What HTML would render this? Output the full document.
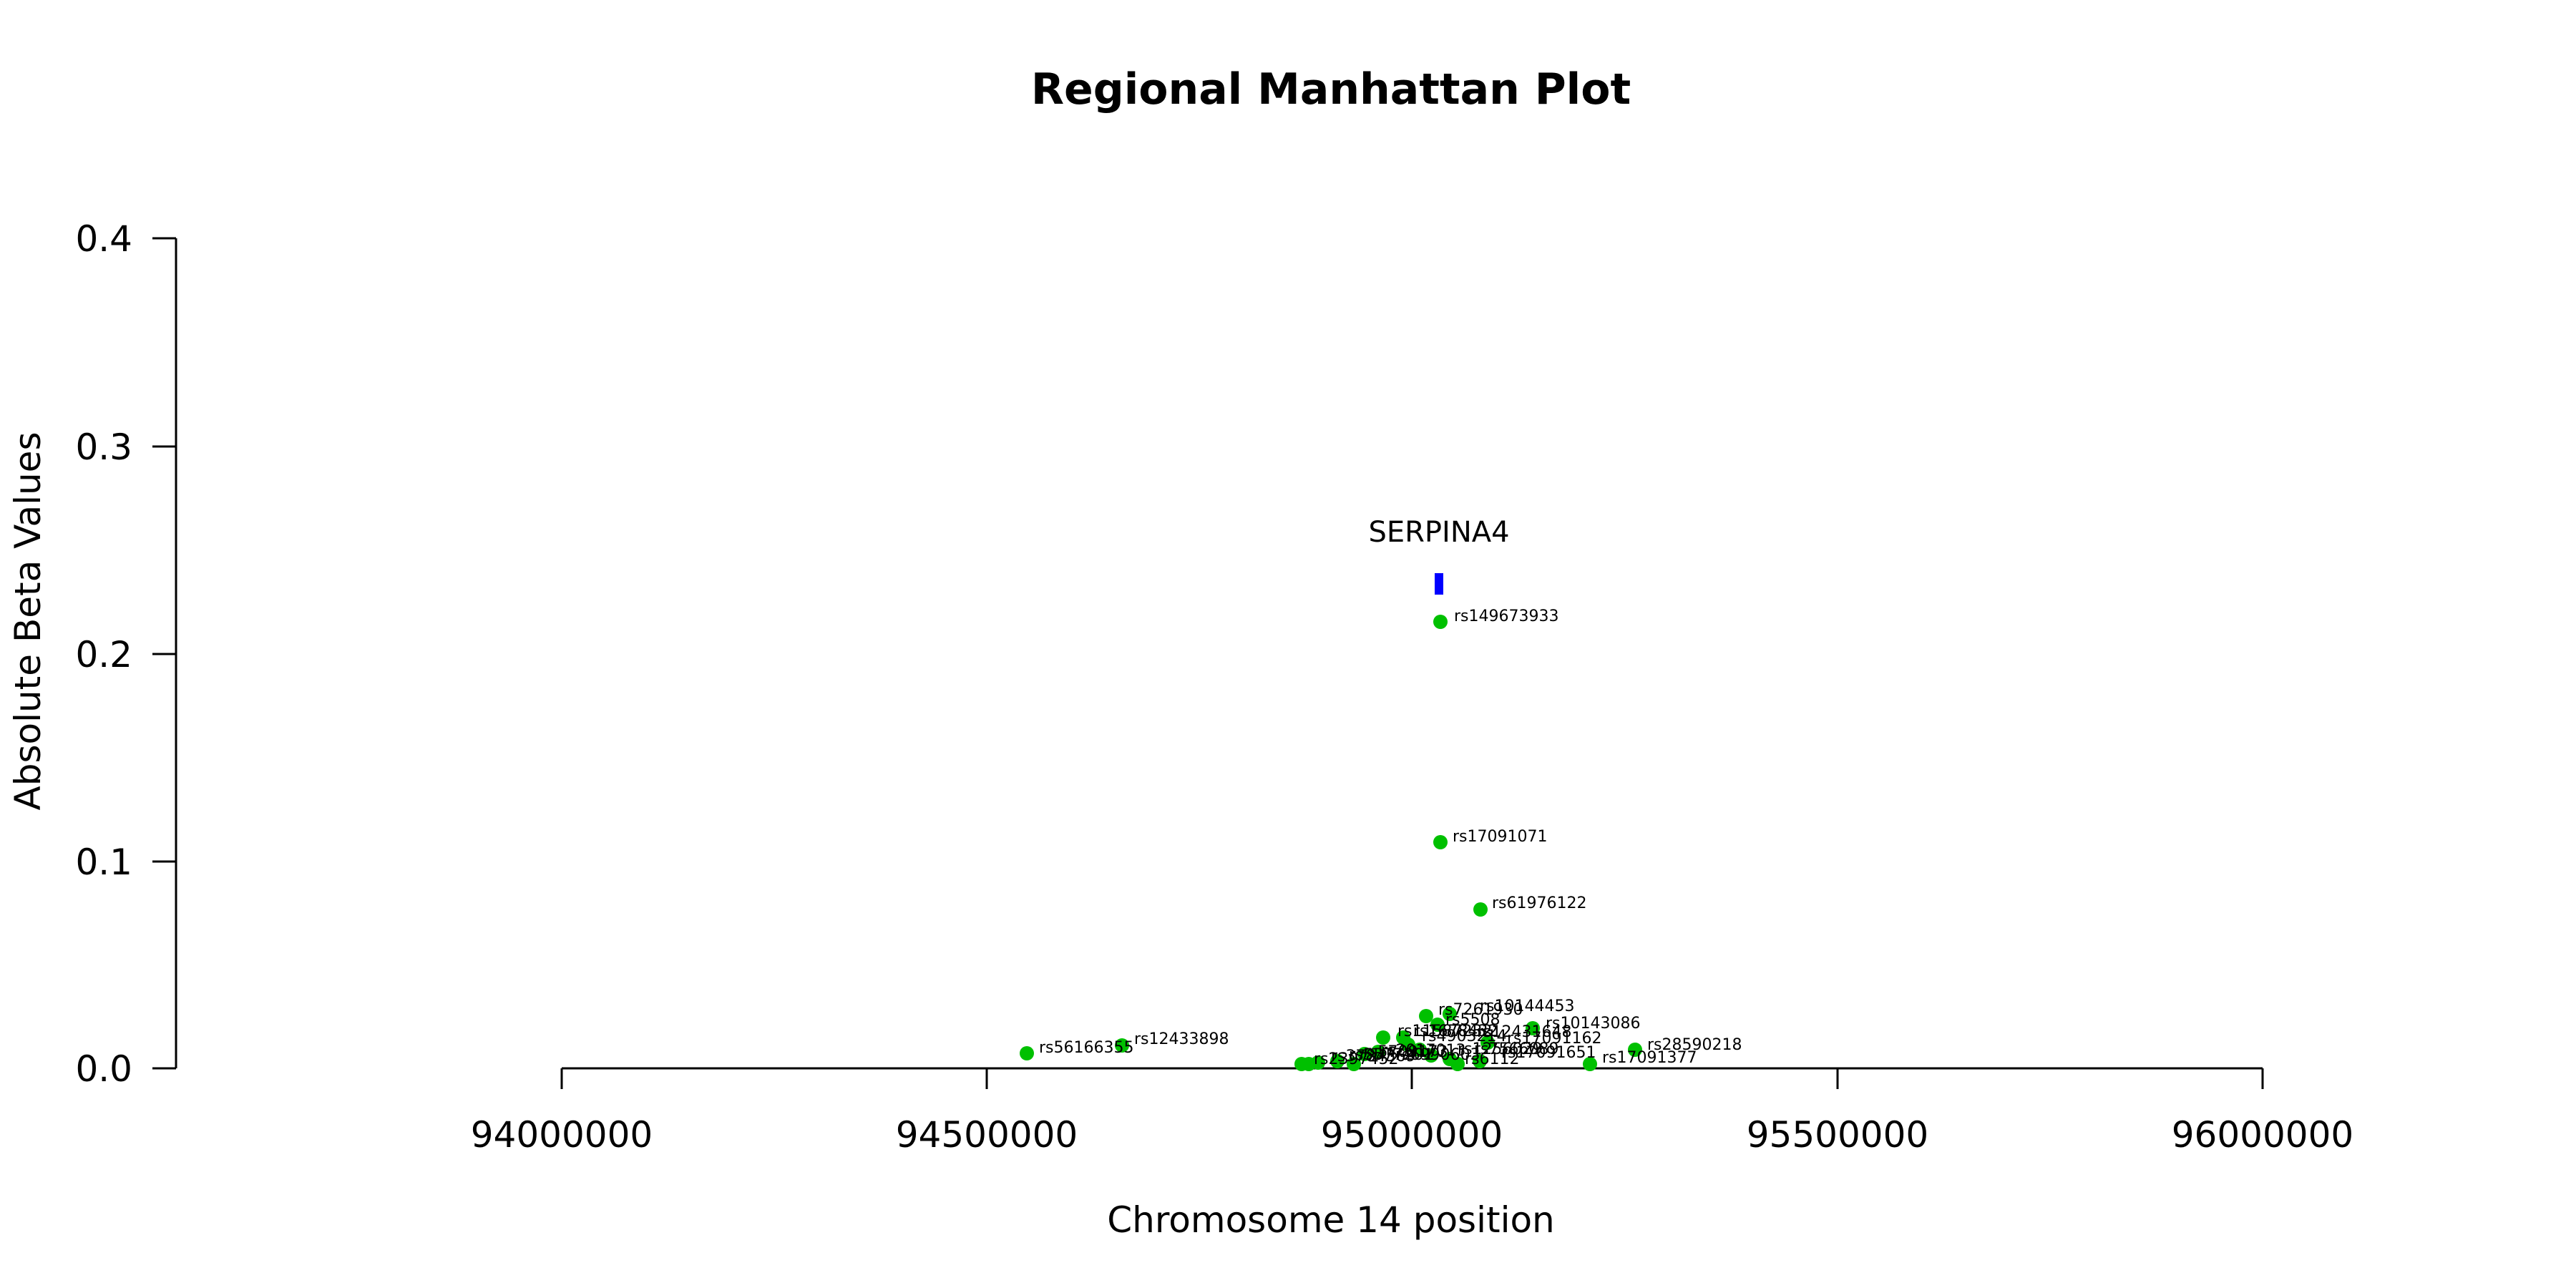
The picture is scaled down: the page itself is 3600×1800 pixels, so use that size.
<!DOCTYPE html>
<html><head><meta charset="utf-8"><style>
html,body{margin:0;padding:0;background:#fff;}
svg{display:block;}
text{font-family:"DejaVu Sans","Liberation Sans",sans-serif;fill:#000;}
</style></head><body>
<svg width="3600" height="1800" viewBox="0 0 3600 1800" xmlns="http://www.w3.org/2000/svg">
<rect width="3600" height="1800" fill="#fff"/>
<text x="1860" y="145" font-size="60" font-weight="bold" text-anchor="middle">Regional Manhattan Plot</text>
<g stroke="#000" stroke-width="3" fill="none">
<line x1="246" y1="333" x2="246" y2="1493"/>
<line x1="213" y1="333" x2="246" y2="333"/>
<line x1="213" y1="624" x2="246" y2="624"/>
<line x1="213" y1="914" x2="246" y2="914"/>
<line x1="213" y1="1204" x2="246" y2="1204"/>
<line x1="213" y1="1493" x2="246" y2="1493"/>
<line x1="785" y1="1493" x2="3162" y2="1493"/>
<line x1="785" y1="1493" x2="785" y2="1522"/>
<line x1="1379" y1="1493" x2="1379" y2="1522"/>
<line x1="1973" y1="1493" x2="1973" y2="1522"/>
<line x1="2568" y1="1493" x2="2568" y2="1522"/>
<line x1="3162" y1="1493" x2="3162" y2="1522"/>
</g>
<g font-size="50" text-anchor="end">
<text x="185" y="351">0.4</text>
<text x="185" y="642">0.3</text>
<text x="185" y="932">0.2</text>
<text x="185" y="1222">0.1</text>
<text x="185" y="1511">0.0</text>
</g>
<g font-size="50" text-anchor="middle">
<text x="785" y="1603">94000000</text>
<text x="1379" y="1603">94500000</text>
<text x="1973" y="1603">95000000</text>
<text x="2568" y="1603">95500000</text>
<text x="3162" y="1603">96000000</text>
</g>
<text x="1860" y="1722" font-size="50" text-anchor="middle">Chromosome 14 position</text>
<text transform="translate(56,868) rotate(-90)" font-size="50" text-anchor="middle">Absolute Beta Values</text>
<text x="2011" y="757" font-size="40" text-anchor="middle">SERPINA4</text>
<rect x="2005" y="801" width="12" height="30" fill="#0000ff"/>
<g fill="#00c000">
<circle cx="2013" cy="869" r="10"/>
<circle cx="2013" cy="1177" r="10"/>
<circle cx="2069" cy="1271" r="10"/>
<circle cx="1435" cy="1472" r="10"/>
<circle cx="1568" cy="1461" r="10"/>
<circle cx="1993" cy="1420" r="10"/>
<circle cx="2026" cy="1417" r="10"/>
<circle cx="2009" cy="1432" r="10"/>
<circle cx="2142" cy="1437" r="10"/>
<circle cx="1933" cy="1450" r="10"/>
<circle cx="1961" cy="1450" r="10"/>
<circle cx="1968" cy="1460" r="10"/>
<circle cx="2079" cy="1457" r="10"/>
<circle cx="2026" cy="1480" r="10"/>
<circle cx="2037" cy="1487" r="10"/>
<circle cx="2068" cy="1483" r="10"/>
<circle cx="2222" cy="1487" r="10"/>
<circle cx="2285" cy="1467" r="10"/>
<circle cx="1869" cy="1483" r="10"/>
<circle cx="1892" cy="1487" r="10"/>
<circle cx="1819" cy="1487" r="10"/>
<circle cx="1829" cy="1487" r="10"/>
<circle cx="1842" cy="1485" r="10"/>
<circle cx="1907" cy="1473" r="10"/>
<circle cx="1926" cy="1470" r="10"/>
<circle cx="1984" cy="1467" r="10"/>
<circle cx="2000" cy="1475" r="10"/>
</g>
<g font-size="22">
<text x="2032" y="868">rs149673933</text>
<text x="2030" y="1176">rs17091071</text>
<text x="2085" y="1269">rs61976122</text>
<text x="1452" y="1471">rs56166355</text>
<text x="1585" y="1459">rs12433898</text>
<text x="2010" y="1418">rs7261930</text>
<text x="2068" y="1413">rs10144453</text>
<text x="2020" y="1432">rs5508</text>
<text x="2160" y="1437">rs10143086</text>
<text x="1953" y="1448">rs11587232</text>
<text x="1975" y="1448">rs1678432</text>
<text x="2064" y="1449">rs12431648</text>
<text x="1987" y="1455">rs4903214</text>
<text x="2106" y="1458">rs17091162</text>
<text x="2037" y="1473">rs1256029</text>
<text x="2060" y="1473">rs7566089</text>
<text x="2098" y="1478">rs17091651</text>
<text x="2047" y="1487">rs6112</text>
<text x="2239" y="1485">rs17091377</text>
<text x="2302" y="1467">rs28590218</text>
<text x="1836" y="1487">rs2397452</text>
<text x="1860" y="1483">rs3784569</text>
<text x="1885" y="1481">rs5577201</text>
<text x="1905" y="1477">rs5709173</text>
<text x="1930" y="1475">rs2017013</text>
<text x="1950" y="1481">rs6990603</text>
</g>
</svg>
</body></html>
